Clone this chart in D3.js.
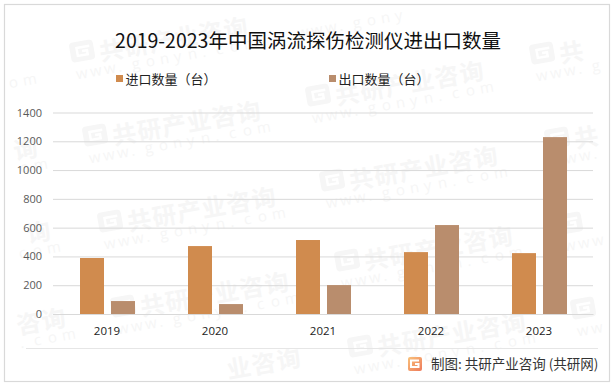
<!DOCTYPE html>
<html>
<head>
<meta charset="utf-8">
<script src="https://cdn.jsdelivr.net/npm/d3@7"></script>
<style>
    html, body { margin: 0; padding: 0; background: #fff; }
    svg { display: block; }
    text { font-family: "Noto Sans CJK SC", "Noto Sans", sans-serif; }
</style>
</head>
<body>
<div id="chart"></div>
<script>
var years = ["2019", "2020", "2021", "2022", "2023"];
var importValues = [389, 472, 514, 430, 423];
var exportValues = [90, 69, 201, 618, 1229];
var yTicks = [0, 200, 400, 600, 800, 1000, 1200, 1400];
var seriesNames = ["进口数量（台）", "出口数量（台）"];
var seriesColors = ["#d08b4e", "#b98d6d"];
var wmName = "共研产业咨询".split("");
var wmSite = "www.gonyn.com".split("");
// bottom left corner of each faint watermark stamp
var stamps = [[72, 63], [85, 147], [100, 233], [113, 318], [125, 394],
    [293, 22], [308, 107], [322, 192], [337, 272], [350, 358],
    [532, 65], [547, 150], [560, 235], [573, 320],
    [-149, 99], [-138, 184], [-125, 267], [-110, 354]];
var wmColor = "#f6f6f6";

var totalWidth = 616, totalHeight = 386;
var margin = { top: 112.5, right: 23, bottom: 72, left: 53 },
    width = totalWidth - margin.left - margin.right,
    height = totalHeight - margin.top - margin.bottom;

var root = d3.select("#chart")
    .append("svg")
    .attr("width", totalWidth)
    .attr("height", totalHeight);

// outer frame
root.append("rect")
    .attr("x", 4.5).attr("y", 4.5)
    .attr("width", 605).attr("height", 377)
    .attr("fill", "#fff")
    .attr("stroke", "#d9d9d9")
    .attr("stroke-width", 1.2);

// watermark sits under the chart. only glyphs fully inside the frame are drawn
var angle = -10 * Math.PI / 180;
function inFrame(s, u, v, w, h) {
    var corners = [[u, v], [u + w, v], [u, v - h], [u + w, v - h]];
    return corners.every(function (c) {
        var px = s[0] + c[0] * Math.cos(angle) + c[1] * Math.sin(-angle);
        var py = s[1] + c[0] * Math.sin(angle) + c[1] * Math.cos(angle);
        return px > 6 && px < 608 && py > 6 && py < 380;
    });
}

var wm = root.selectAll(".stamp")
    .data(stamps)
    .enter()
    .append("g")
    .attr("class", "stamp")
    .attr("transform", function (d) { return "translate(" + d[0] + "," + d[1] + ") rotate(-10)"; });

wm.each(function (s) {
    var g = d3.select(this);
    if (inFrame(s, 0, 0, 24, 20)) {
        g.append("rect")
            .attr("x", 0).attr("y", -20)
            .attr("width", 24).attr("height", 20).attr("rx", 4)
            .attr("fill", wmColor);
        g.append("path")
            .attr("d", "M20 -14 H7 V-6 H17 V-10 H12")
            .attr("fill", "none")
            .attr("stroke", "#fff")
            .attr("stroke-width", 2.5);
    }
    wmName.forEach(function (ch, i) {
        var u = 29 + i * 25.2;
        if (!inFrame(s, u, 3, 24, 22)) return;
        g.append("text")
            .attr("x", u).attr("y", 3)
            .attr("fill", wmColor)
            .style("font-size", "24px")
            .style("font-weight", "700")
            .text(ch);
    });
    wmSite.forEach(function (ch, i) {
        var u = 2 + i * 14.2;
        if (!inFrame(s, u, 17, 12, 12)) return;
        g.append("text")
            .attr("x", u).attr("y", 17)
            .attr("fill", wmColor)
            .style("font-size", "15px")
            .style("font-family", "'Open Sans', sans-serif")
            .text(ch);
    });
});

var x0 = d3.scaleBand().domain(years).range([0, width]);
var x1 = d3.scaleBand().domain([0, 1]).range([27, 82]).paddingInner(7 / 31);
var y = d3.scaleLinear().domain([0, 1400]).range([height, 0]);

var svg = root.append("g")
    .attr("transform", "translate(" + margin.left + "," + margin.top + ")");

// gridlines
svg.append("g")
    .call(d3.axisLeft(y).tickValues(yTicks).tickFormat(d3.format("d")).tickSize(-width).tickPadding(11))
    .call(function (g) { g.select(".domain").remove(); })
    .call(function (g) {
        g.selectAll("line").attr("stroke", "#d9d9d9");
        g.selectAll("text").attr("fill", "#595959").style("font-size", "11px")
            .style("font-family", "'Open Sans', sans-serif");
    });

// bars
var groups = svg.selectAll(".year")
    .data(years)
    .enter()
    .append("g")
    .attr("class", "year")
    .attr("transform", function (d) { return "translate(" + x0(d) + ",0)"; });

groups.selectAll("rect")
    .data(function (d, i) { return [importValues[i], exportValues[i]]; })
    .enter()
    .append("rect")
    .attr("x", function (d, i) { return x1(i); })
    .attr("y", function (d) { return y(d); })
    .attr("width", x1.bandwidth())
    .attr("height", function (d) { return height - y(d); })
    .attr("fill", function (d, i) { return seriesColors[i]; });

// x labels
svg.append("g")
    .attr("transform", "translate(0," + height + ")")
    .call(d3.axisBottom(x0).tickSize(0).tickPadding(13))
    .call(function (g) {
        g.select(".domain").attr("stroke", "#d9d9d9");
        g.selectAll("text").attr("fill", "#222").style("font-size", "11.5px")
            .style("font-family", "'Open Sans', sans-serif");
    });

// title
root.append("text")
    .attr("x", 308).attr("y", 48)
    .attr("text-anchor", "middle")
    .attr("fill", "#111")
    .style("font-size", "19.5px")
    .text("2019-2023年中国涡流探伤检测仪进出口数量");

// legend
var legendX = [116, 329];
var legend = root.selectAll(".legend")
    .data(seriesNames)
    .enter()
    .append("g")
    .attr("class", "legend")
    .attr("transform", function (d, i) { return "translate(" + legendX[i] + ",75)"; });
legend.append("rect")
    .attr("width", 7).attr("height", 7)
    .attr("fill", function (d, i) { return seriesColors[i]; });
legend.append("text")
    .attr("x", 9.5).attr("y", 9)
    .attr("fill", "#222")
    .style("font-size", "13px")
    .text(function (d) { return d; });

// separator and source line
root.append("line")
    .attr("x1", 26).attr("x2", 598)
    .attr("y1", 348.5).attr("y2", 348.5)
    .attr("stroke", "#e6e6e6");

var defs = root.append("defs");
var grad = defs.append("linearGradient").attr("id", "logoGrad")
    .attr("x1", 0).attr("y1", 0).attr("x2", 1).attr("y2", 1);
grad.append("stop").attr("offset", "0%").attr("stop-color", "#f9c27a");
grad.append("stop").attr("offset", "100%").attr("stop-color", "#ee7a5c");

root.append("rect")
    .attr("x", 408).attr("y", 357)
    .attr("width", 14).attr("height", 14).attr("rx", 2)
    .attr("fill", "url(#logoGrad)");
root.append("path")
    .attr("d", "M419 360.5 H411 V367 H418.500 V364 H415")
    .attr("fill", "none")
    .attr("stroke", "#fff")
    .attr("stroke-width", 2);
root.append("text")
    .attr("x", 431).attr("y", 369)
    .attr("fill", "#333")
    .style("font-size", "13.5px")
    .text("制图: 共研产业咨询 (共研网)");
</script>
</body>
</html>
